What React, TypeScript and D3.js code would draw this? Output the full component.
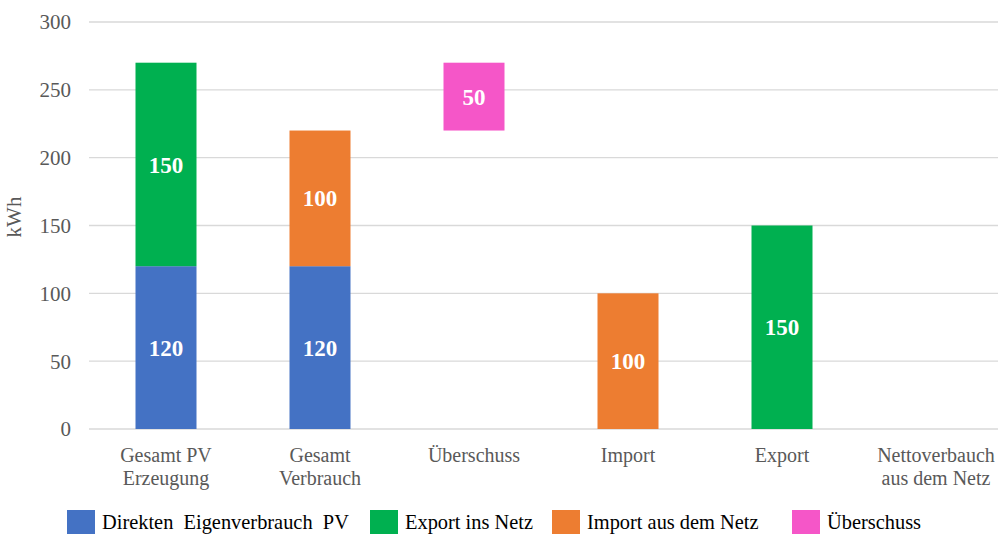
import * as React from 'react';
import * as d3 from 'd3';

const categories = [
  ['Gesamt PV', 'Erzeugung'],
  ['Gesamt', 'Verbrauch'],
  ['Überschuss'],
  ['Import'],
  ['Export'],
  ['Nettoverbauch', 'aus dem Netz'],
];
const basis = [0, 0, 220, 0, 0, 0];
const direkt = [120, 120, 0, 0, 0, 0];
const exportNetz = [150, 0, 0, 0, 150, 0];
const importNetz = [0, 100, 0, 100, 0, 0];
const ueberschuss = [0, 0, 50, 0, 0, 0];
const yTicks = [0, 50, 100, 150, 200, 250, 300];

const seriesKeys = ['basis', 'direkt', 'export', 'import', 'ueberschuss'];
const colors: Record<string, string> = {
  basis: 'none',
  direkt: '#4472C4',
  export: '#00B050',
  import: '#ED7D31',
  ueberschuss: '#F556C8',
};
const legend = [
  { key: 'direkt', label: 'Direkten  Eigenverbrauch  PV', x: 67 },
  { key: 'export', label: 'Export ins Netz', x: 370 },
  { key: 'import', label: 'Import aus dem Netz', x: 552 },
  { key: 'ueberschuss', label: 'Überschuss', x: 792 },
];

export default function App() {
  const width = 998;
  const height = 534;
  const font = "'Liberation Serif', serif";

  const rows = categories.map((c, i) => ({
    idx: String(i),
    basis: basis[i],
    direkt: direkt[i],
    export: exportNetz[i],
    import: importNetz[i],
    ueberschuss: ueberschuss[i],
  }));

  const x = d3
    .scaleBand()
    .domain(rows.map((r) => r.idx))
    .range([89, 1013])
    .paddingInner(0.6)
    .paddingOuter(0.3);

  const y = d3.scaleLinear().domain([0, 300]).range([429, 22]);

  const stacked = d3.stack<any>().keys(seriesKeys)(rows);

  const barW = 61;

  return (
    <svg
      width={width}
      height={height}
      style={{ display: 'block', position: 'absolute', left: 0, top: 0, fontFamily: font }}
    >
      <rect width={width} height={height} fill="#fff" />
      {yTicks.map((t) => (
        <g key={t}>
          <line x1={89} x2={width} y1={y(t)} y2={y(t)} stroke="#d9d9d9" strokeWidth={1.3} />
          <text x={71} y={y(t)} dy="0.35em" textAnchor="end" fontSize={21} fill="#595959">
            {t}
          </text>
        </g>
      ))}
      <text
        transform={`translate(21, 217) rotate(-90)`}
        textAnchor="middle"
        fontSize={21}
        fill="#595959"
      >
        kWh
      </text>
      {stacked.map((s) =>
        s.key === 'basis'
          ? null
          : s.map((d, i) => {
              const v = d[1] - d[0];
              if (v <= 0) return null;
              const cx = (x(String(i)) as number) + x.bandwidth() / 2;
              return (
                <g key={s.key + i}>
                  <rect
                    x={cx - barW / 2}
                    width={barW}
                    y={y(d[1])}
                    height={y(d[0]) - y(d[1])}
                    fill={colors[s.key]}
                  />
                  <text
                    x={cx}
                    y={y((d[0] + d[1]) / 2)}
                    dy="0.35em"
                    textAnchor="middle"
                    fontSize={23}
                    fontWeight="bold"
                    fill="#fff"
                  >
                    {v}
                  </text>
                </g>
              );
            })
      )}
      {categories.map((c, i) => {
        const cx = (x(String(i)) as number) + x.bandwidth() / 2;
        return (
          <text key={i} x={cx} y={462} textAnchor="middle" fontSize={20} fill="#595959">
            {c.map((line, j) => (
              <tspan key={j} x={cx} dy={j === 0 ? 0 : 23}>
                {line}
              </tspan>
            ))}
          </text>
        );
      })}
      {legend.map((l) => (
        <g key={l.key}>
          <rect x={l.x} y={510} width={28} height={28} fill={colors[l.key]} />
          <text x={l.x + 35} y={529} fontSize={20.4} fill="#000" style={{ whiteSpace: 'pre' }}>
            {l.label}
          </text>
        </g>
      ))}
    </svg>
  );
}
